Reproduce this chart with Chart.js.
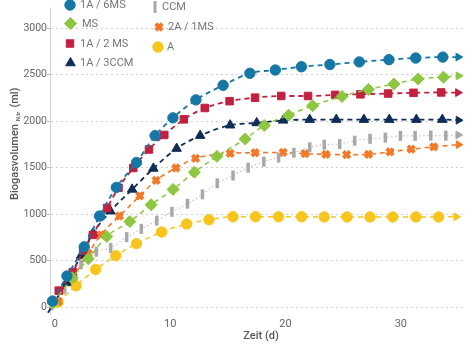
<!DOCTYPE html>
<html><head><meta charset="utf-8">
<script src="https://cdn.jsdelivr.net/npm/chart.js@4.4.1/dist/chart.umd.min.js"></script>
<style>html,body{margin:0;padding:0;background:#fff}#w{width:474px;height:345px;position:relative}</style>
</head><body><div id="w"><canvas id="c"></canvas></div>
<script>
// ---- data ----
const xTickValues = [0, 10, 20, 30];
const yTickValues = [0, 500, 1000, 1500, 2000, 2500, 3000];

const names = ['1A / 6MS', 'MS', '1A / 2 MS', '1A / 3CCM', 'CCM', '2A / 1MS', 'A'];

const days6MS = [-0.2, 1.05, 2.55, 3.88, 5.33, 7.08, 8.69, 10.24, 12.23, 14.59, 16.91, 19.12, 21.38, 23.85, 26.4, 28.97, 31.29, 33.64, 34.98];
const vals6MS = [66, 335, 649, 980, 1287, 1555, 1844, 2035, 2228, 2385, 2514, 2549, 2584, 2608, 2636, 2660, 2678, 2688, 2688];

const daysMS = [-0.14, 1.5, 2.9, 4.5, 6.5, 8.35, 10.25, 12.1, 14.06, 16.5, 18.16, 20.27, 22.35, 24.9, 27.2, 29.4, 31.5, 33.7, 35.0];
const valsMS = [45, 317, 520, 760, 920, 1101, 1266, 1451, 1621, 1808, 1953, 2064, 2165, 2265, 2340, 2398, 2453, 2472, 2486];

const days2MS = [0.34, 1.55, 2.46, 3.3, 4.53, 5.52, 6.8, 8.16, 9.49, 11.19, 13.0, 15.15, 17.36, 19.63, 21.95, 24.3, 26.5, 28.9, 31.1, 33.5, 34.95];
const vals2MS = [178, 377, 607, 777, 1067, 1283, 1496, 1695, 1851, 2019, 2141, 2214, 2252, 2270, 2270, 2282, 2288, 2296, 2304, 2308, 2306];

const days3CCM = [-0.6, 1.0, 2.27, 3.31, 4.82, 6.7, 8.54, 10.56, 12.6, 15.2, 17.5, 19.8, 22.1, 24.4, 26.8, 29.0, 31.35, 33.6, 35.0];
const vals3CCM = [-60, 265, 554, 795, 1032, 1266, 1491, 1705, 1844, 1956, 1980, 2008, 2016, 2016, 2016, 2016, 2016, 2016, 2010];

const daysCCM = [-0.3, 0.85, 2.27, 3.6, 4.84, 6.23, 7.5, 8.84, 10.15, 11.5, 12.8, 14.08, 15.45, 16.76, 18.12, 19.4, 20.73, 22.1, 23.36, 24.7, 26.0, 27.33, 28.66, 29.97, 31.24, 32.6, 33.9, 34.98];
const valsCCM = [20, 199, 460, 596, 638, 753, 842, 931, 1025, 1112, 1213, 1332, 1415, 1499, 1564, 1608, 1660, 1719, 1747, 1754, 1789, 1810, 1823, 1841, 1841, 1844, 1844, 1851];

const days2A1MS = [0.3, 1.6, 2.9, 4.0, 5.6, 7.37, 8.78, 10.5, 12.2, 15.2, 17.36, 19.8, 21.7, 23.5, 25.3, 27.2, 29.06, 30.9, 32.85, 35.0];
const vals2A1MS = [60, 320, 578, 777, 980, 1196, 1363, 1496, 1600, 1653, 1660, 1663, 1650, 1642, 1639, 1642, 1670, 1698, 1723, 1747];

const daysA = [0.28, 1.84, 3.54, 5.29, 7.08, 9.26, 11.43, 13.36, 15.45, 17.4, 19.4, 21.4, 23.36, 25.34, 27.33, 29.3, 31.3, 33.28, 34.8];
const valsA = [55, 230, 405, 554, 683, 808, 894, 940, 972, 972, 972, 972, 970, 970, 970, 970, 970, 970, 972];

// ---- styling ----
const FONT = 'Roboto, "Liberation Sans", sans-serif';
const pts = (d, v) => d.map((x, i) => ({x: x, y: v[i]}));

const styles = [
  {days: days6MS, vals: vals6MS, color: '#1677a4', style: 'circle', r: 5.2, bw: 1, dash: [5, 4], lw: 1.8, rot: 0},
  {days: daysMS, vals: valsMS, color: '#8dc63f', style: 'rectRot', r: 6, bw: 1, dash: [5, 4], lw: 1.5, rot: 0},
  {days: days2MS, vals: vals2MS, color: '#c0213f', style: 'rect', r: 5.3, bw: 1, dash: [5, 4], lw: 1.8, rot: 0},
  {days: days3CCM, vals: vals3CCM, color: '#0e2c57', style: 'triangle', r: 5.5, bw: 1, dash: [5, 4], lw: 1.8, rot: 0, hideFirst: true},
  {days: daysCCM, vals: valsCCM, color: '#a8a8a8', style: 'line', r: 5, bw: 3.5, dash: [1.5, 2.5], lw: 1.2, rot: 90, line: '#c4c4c4'},
  {days: days2A1MS, vals: vals2A1MS, color: '#f07a2a', style: 'crossRot', r: 4.6, bw: 4, dash: [5, 4], lw: 1.6, rot: 0},
  {days: daysA, vals: valsA, color: '#f8c51d', style: 'circle', r: 5.2, bw: 1, dash: [5, 4], lw: 1.5, rot: 0}
];

const datasets = styles.map((s, k) => {
  const n = s.days.length;
  return {
    label: names[k],
    data: pts(s.days, s.vals),
    borderColor: s.line || s.color,
    backgroundColor: s.color,
    borderWidth: s.lw,
    borderDash: s.dash,
    cubicInterpolationMode: 'monotone',
    clip: false,
    pointStyle: c => c.dataIndex === n - 1 ? 'triangle' : s.style,
    pointRadius: c => (s.hideFirst && c.dataIndex === 0) ? 0 : (c.dataIndex === n - 1 ? 4.5 : s.r),
    pointRotation: c => c.dataIndex === n - 1 ? 90 : s.rot,
    pointBorderWidth: c => c.dataIndex === n - 1 ? 1 : s.bw,
    pointBorderColor: s.color,
    pointBackgroundColor: s.color,
    pointHoverRadius: s.r
  };
});

// custom legend + axis titles
const legendPos = [
  {x: 70, y: 5, tx: 80}, {x: 70.5, y: 23.5, tx: 82}, {x: 70, y: 43.5, tx: 80}, {x: 70.5, y: 63, tx: 80},
  {x: 155, y: 7, tx: 162}, {x: 159, y: 27, tx: 168}, {x: 158, y: 47, tx: 167}
];
const extras = {
  id: 'extras',
  afterDraw(chart) {
    const ctx = chart.ctx;
    ctx.save();
    styles.forEach((s, k) => {
      const p = legendPos[k];
      ctx.fillStyle = s.color; ctx.strokeStyle = s.color;
      ctx.setLineDash([]);
      let r = s.r, bw = s.bw;
      if (s.style === 'line') { r = 6; bw = 3; }
      ctx.lineWidth = bw;
      Chart.helpers.drawPoint(ctx, {pointStyle: s.style, radius: r, rotation: s.rot, borderWidth: bw}, p.x, p.y);
      ctx.fillStyle = '#777';
      ctx.font = '11px ' + FONT;
      ctx.textBaseline = 'middle'; ctx.textAlign = 'left';
      ctx.fillText(names[k], p.tx, p.y + 0.5);
    });
    // x title
    ctx.fillStyle = '#555';
    ctx.font = '500 11px ' + FONT;
    ctx.textAlign = 'center'; ctx.textBaseline = 'middle';
    ctx.fillText('Zeit (d)', 261, 336);
    // y title with subscript
    ctx.translate(15, 200);
    ctx.rotate(-Math.PI / 2);
    ctx.textAlign = 'left';
    ctx.font = '500 11px ' + FONT;
    const t1 = 'Biogasvolumen ';
    ctx.fillText(t1, 0, 0);
    let w = ctx.measureText(t1).width;
    ctx.font = '500 6px ' + FONT;
    ctx.fillText('N,tr', w, 3);
    w += ctx.measureText('N,tr').width + 4;
    ctx.font = '500 11px ' + FONT;
    ctx.fillText('(ml)', w, 0);
    ctx.restore();
  }
};

new Chart(document.getElementById('c'), {
  type: 'line',
  data: {datasets},
  options: {
    responsive: true, maintainAspectRatio: false, animation: false,
    layout: {padding: {left: 0, right: 0, top: 0, bottom: 0}},
    plugins: {legend: {display: false}, tooltip: {enabled: false}},
    scales: {
      x: {
        type: 'linear', min: -0.42, max: 35.6,
        afterBuildTicks: a => { a.ticks = xTickValues.map(v => ({value: v})); },
        afterFit: a => { a.height = 31; },
        grid: {display: false, drawTicks: false, tickLength: 0},
        border: {display: false},
        ticks: {color: '#666', font: {family: FONT, size: 11}, padding: 4, maxRotation: 0, callback: v => String(v)}
      },
      y: {
        type: 'linear', min: -73, max: 3209,
        afterBuildTicks: a => { a.ticks = yTickValues.map(v => ({value: v})); },
        afterFit: a => { a.width = 50; },
        grid: {color: '#cfcfcf', lineWidth: 1, tickLength: 3, tickColor: '#bbb', drawTicks: true},
        border: {display: true, color: '#d0d0d0', dash: [2, 3], width: 1},
        ticks: {color: '#666', font: {family: FONT, size: 10.5}, padding: 0, callback: v => String(v)}
      }
    }
  },
  plugins: [extras]
});
</script>
</body></html>
